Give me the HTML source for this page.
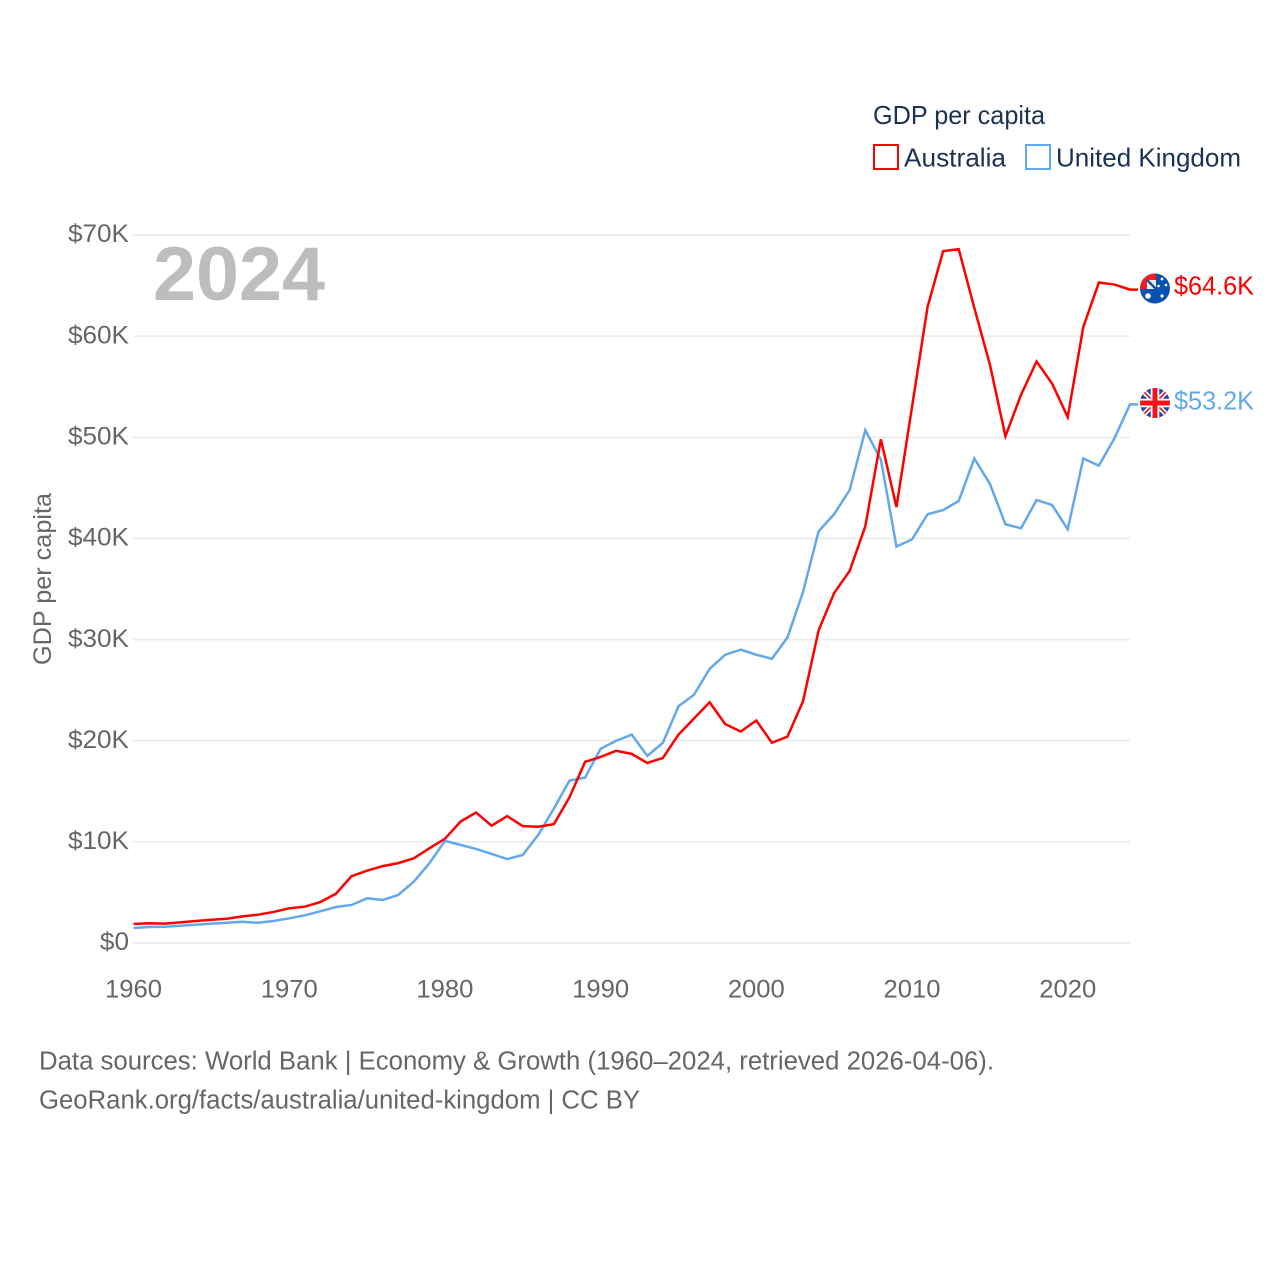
<!DOCTYPE html>
<html lang="en">
<head>
<meta charset="utf-8">
<title>GDP per capita: Australia vs United Kingdom</title>
<style>
html,body{margin:0;padding:0;background:#fff;width:1280px;height:1280px;overflow:hidden}
svg{display:block}
text{font-family:"Liberation Sans",sans-serif}
</style>
</head>
<body>
<svg id="chart" xmlns="http://www.w3.org/2000/svg" width="1280" height="1280" viewBox="0 0 1280 1280">
  <defs>
    <clipPath id="clip-au"><circle cx="1155" cy="288.5" r="15"/></clipPath>
    <clipPath id="clip-uk"><circle cx="1155" cy="403" r="15"/></clipPath>
  </defs>
  <g id="grid"></g>
  <g id="yticks"></g>
  <g id="xticks"></g>
  <text x="153" y="300" font-size="76" font-weight="700" fill="#bdbdbd" textLength="172" lengthAdjust="spacingAndGlyphs">2024</text>
  <text transform="translate(51,665) rotate(-90)" font-size="25" fill="#666" textLength="172" lengthAdjust="spacingAndGlyphs">GDP per capita</text>
  <g id="series"></g>

  <g>
    <text x="873" y="124" font-size="26" fill="#1b3352" textLength="172" lengthAdjust="spacingAndGlyphs">GDP per capita</text>
    <rect x="874" y="145" width="24" height="24" fill="#fff" stroke="#ff0000" stroke-width="2"/>
    <text x="904" y="166.5" font-size="26" fill="#1b3352" textLength="102" lengthAdjust="spacingAndGlyphs">Australia</text>
    <rect x="1026" y="145" width="24" height="24" fill="#fff" stroke="#64a8ec" stroke-width="2"/>
    <text x="1056" y="166.5" font-size="26" fill="#1b3352" textLength="185" lengthAdjust="spacingAndGlyphs">United Kingdom</text>
  </g>

  <g clip-path="url(#clip-au)">
    <rect x="1140" y="273" width="30" height="31" fill="#0a50b0"/>
    <rect x="1147" y="280" width="9" height="9" fill="#e9edf5"/>
    <path d="M1147 280 L1156 289" stroke="#1d4fa0" stroke-width="2.4"/>
    <path d="M1140 273H1156V280H1147V289H1140Z" fill="#f01c24"/>
    <circle cx="1148" cy="296" r="2.8" fill="#fff"/>
    <circle cx="1162" cy="279" r="1.4" fill="#fff"/>
    <circle cx="1158.5" cy="286" r="1.3" fill="#fff"/>
    <circle cx="1166" cy="285" r="1.3" fill="#fff"/>
    <circle cx="1162" cy="296" r="1.6" fill="#fff"/>
  </g>
  <g clip-path="url(#clip-uk)">
    <rect x="1140" y="388" width="30" height="31" fill="#1a47a0"/>
    <path d="M1140 388 L1170 418 M1170 388 L1140 418" stroke="#fff" stroke-width="5"/>
    <path d="M1140 388 L1170 418 M1170 388 L1140 418" stroke="#e8202c" stroke-width="1.8"/>
    <path d="M1155 388V419 M1140 403H1170" stroke="#fff" stroke-width="8.5"/>
    <path d="M1155 388V419 M1140 403H1170" stroke="#f5141e" stroke-width="5"/>
  </g>

  <text x="1174" y="294.5" font-size="26" fill="#ff0000" textLength="80" lengthAdjust="spacingAndGlyphs">$64.6K</text>
  <text x="1174" y="409.5" font-size="26" fill="#64a8ec" textLength="80" lengthAdjust="spacingAndGlyphs">$53.2K</text>

  <text x="39" y="1069.5" font-size="25.5" fill="#666" textLength="955" lengthAdjust="spacingAndGlyphs">Data sources: World Bank | Economy &amp; Growth (1960–2024, retrieved 2026-04-06).</text>
  <text x="39" y="1108.5" font-size="25.5" fill="#666" textLength="601" lengthAdjust="spacingAndGlyphs">GeoRank.org/facts/australia/united-kingdom | CC BY</text>
</svg>
<script>
const years = [1960,1961,1962,1963,1964,1965,1966,1967,1968,1969,1970,1971,1972,1973,1974,1975,1976,1977,1978,1979,1980,1981,1982,1983,1984,1985,1986,1987,1988,1989,1990,1991,1992,1993,1994,1995,1996,1997,1998,1999,2000,2001,2002,2003,2004,2005,2006,2007,2008,2009,2010,2011,2012,2013,2014,2015,2016,2017,2018,2019,2020,2021,2022,2023,2024];
const australia = [1.88,1.95,1.91,2.04,2.18,2.3,2.4,2.63,2.8,3.07,3.43,3.59,4.05,4.87,6.6,7.15,7.6,7.9,8.37,9.36,10.3,12.0,12.9,11.6,12.55,11.55,11.5,11.75,14.4,17.9,18.4,19.0,18.7,17.8,18.3,20.6,22.2,23.8,21.65,20.9,22.0,19.8,20.4,23.9,30.9,34.6,36.8,41.2,49.8,43.1,53.0,62.9,68.4,68.6,62.8,57.2,50.1,54.2,57.5,55.3,52.0,60.9,65.3,65.1,64.6];
const unitedKingdom = [1.48,1.58,1.61,1.71,1.81,1.91,2.0,2.1,2.0,2.18,2.44,2.74,3.13,3.56,3.76,4.42,4.25,4.75,6.06,7.88,10.09,9.7,9.3,8.8,8.3,8.7,10.7,13.3,16.05,16.35,19.2,20.0,20.6,18.5,19.8,23.4,24.55,27.1,28.5,29.0,28.5,28.1,30.2,34.7,40.7,42.4,44.8,50.7,47.8,39.2,39.9,42.4,42.8,43.7,47.9,45.4,41.4,41.0,43.8,43.3,40.9,47.9,47.2,49.9,53.25];
const yTickValues = [0,10,20,30,40,50,60,70];
const yTickLabels = ["$0","$10K","$20K","$30K","$40K","$50K","$60K","$70K"];
const xTickValues = [1960,1970,1980,1990,2000,2010,2020];

const svgNS = "http://www.w3.org/2000/svg";
function xScale(year){ return 133.5 + (year - 1960) * (1130 - 133.5) / 64; }
function yScale(value){ return 943 - value * (943 - 235) / 70; }
function make(tag, attrs, parent){
  const el = document.createElementNS(svgNS, tag);
  for (const k in attrs) el.setAttribute(k, attrs[k]);
  parent.appendChild(el);
  return el;
}

const gridGroup = document.getElementById('grid');
const yGroup = document.getElementById('yticks');
yTickValues.forEach(function(v, i){
  const line = make('line', {x1:133, x2:1130, y1:yScale(v), y2:yScale(v), stroke:'#ececec', 'stroke-width':1.6}, gridGroup);
  
  
  const label = make('text', {x:129, y:yScale(v)+7.2, 'font-size':25, fill:'#666', 'text-anchor':'end'}, yGroup);
  
  
  label.textContent = yTickLabels[i];
  label.setAttribute('textLength', label.getComputedTextLength() * 1.045);
  label.setAttribute('lengthAdjust', 'spacingAndGlyphs');
});

const xGroup = document.getElementById('xticks');
xTickValues.forEach(function(v){
  const label = make('text', {x:xScale(v), y:997.5, 'font-size':25, fill:'#666', 'text-anchor':'middle'}, xGroup);
  
  
  label.textContent = v;
  label.setAttribute('textLength', 57);
  label.setAttribute('lengthAdjust', 'spacingAndGlyphs');
});

const seriesGroup = document.getElementById('series');
function drawSeries(values, color, name){
  const pts = values.map(function(v, i){ return xScale(years[i]).toFixed(2) + ',' + yScale(v).toFixed(2); });
  const last = values[values.length - 1];
  pts.push('1138,' + yScale(last).toFixed(2));
  const path = make('polyline', {points:pts.join(' '), fill:'none', stroke:color, 'stroke-width':2.5, 'stroke-linejoin':'miter'}, seriesGroup);
  
  
}
drawSeries(unitedKingdom, '#64a8ec', 'line-united-kingdom');
drawSeries(australia, '#ff0000', 'line-australia');
</script>
</body>
</html>
